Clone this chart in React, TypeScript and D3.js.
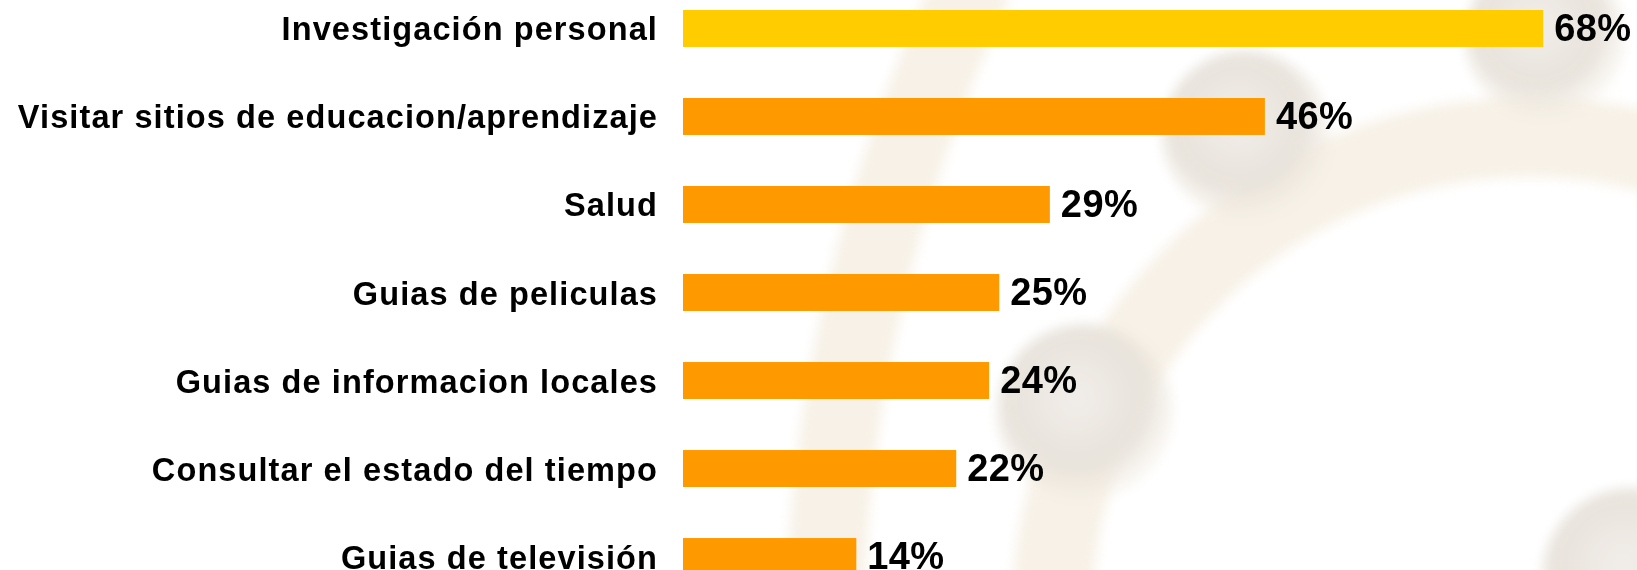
import React from "react";
import * as d3 from "d3";

const categories = [
  "Investigación personal",
  "Visitar sitios de educacion/aprendizaje",
  "Salud",
  "Guias de peliculas",
  "Guias de informacion locales",
  "Consultar el estado del tiempo",
  "Guias de televisión",
];
const values = [68, 46, 29, 25, 24.2, 21.6, 13.7];
const valueLabels = ["68%", "46%", "29%", "25%", "24%", "22%", "14%"];

const W = 1637;
const H = 570;

export default function App() {
  const x = d3.scaleLinear().domain([0, 100]).range([683, 683 + 1265]);
  const y = d3
    .scaleBand<string>()
    .domain(categories)
    .range([10, 575])
    .paddingInner(0.58)
    .paddingOuter(0);

  const ring = d3.arc()({
    innerRadius: 438,
    outerRadius: 518,
    startAngle: -Math.PI * 0.75,
    endAngle: Math.PI * 0.6,
  } as any) as string;

  const spheres = [
    { cx: 1545, cy: 38, r: 80 },
    { cx: 1246, cy: 135, r: 84 },
    { cx: 1085, cy: 412, r: 88 },
    { cx: 1632, cy: 578, r: 90 },
  ];

  return (
    <svg
      width={W}
      height={H}
      style={{ position: "absolute", left: 0, top: 0, display: "block", background: "#fff" }}
    >
      <defs>
        <radialGradient id="sph" cx="45%" cy="42%" r="60%">
          <stop offset="0%" stopColor="#efebe6" />
          <stop offset="65%" stopColor="#e4ded5" />
          <stop offset="100%" stopColor="#efe7da" stopOpacity="0.2" />
        </radialGradient>
        <filter id="blur" x="-20%" y="-20%" width="140%" height="140%">
          <feGaussianBlur stdDeviation="6" />
        </filter>
      </defs>
      <rect x={0} y={0} width={W} height={H} fill="#ffffff" />
      <g filter="url(#blur)" opacity={0.85}>
        <path
          d="M 975 -20 Q 835 280 825 600"
          fill="none"
          stroke="#f6efe3"
          strokeWidth={78}
        />
        <path d={ring} transform="translate(1530,615)" fill="#f6efe3" />
        {spheres.map((s, i) => (
          <circle key={i} cx={s.cx} cy={s.cy} r={s.r} fill="url(#sph)" />
        ))}
      </g>

      {categories.map((c, i) => {
        const by = y(c)!;
        const bh = y.bandwidth();
        const cy = by + bh / 2;
        return (
          <g key={c}>
            <rect
              x={x(0)}
              y={by}
              width={x(values[i]) - x(0)}
              height={bh}
              fill={i === 0 ? "#FFCC00" : "#FF9900"}
            />
            <text
              x={658}
              y={cy + 12}
              textAnchor="end"
              fontFamily="'Liberation Sans', Arial, sans-serif"
              fontWeight="bold"
              fontSize={32.5}
              letterSpacing={1.1}
              fill="#000"
            >
              {c}
            </text>
            <text
              x={x(values[i]) + 11}
              y={cy + 12.5}
              fontFamily="'Liberation Sans', Arial, sans-serif"
              fontWeight="bold"
              fontSize={38}
              letterSpacing={0.4}
              fill="#000"
            >
              {valueLabels[i]}
            </text>
          </g>
        );
      })}
    </svg>
  );
}
